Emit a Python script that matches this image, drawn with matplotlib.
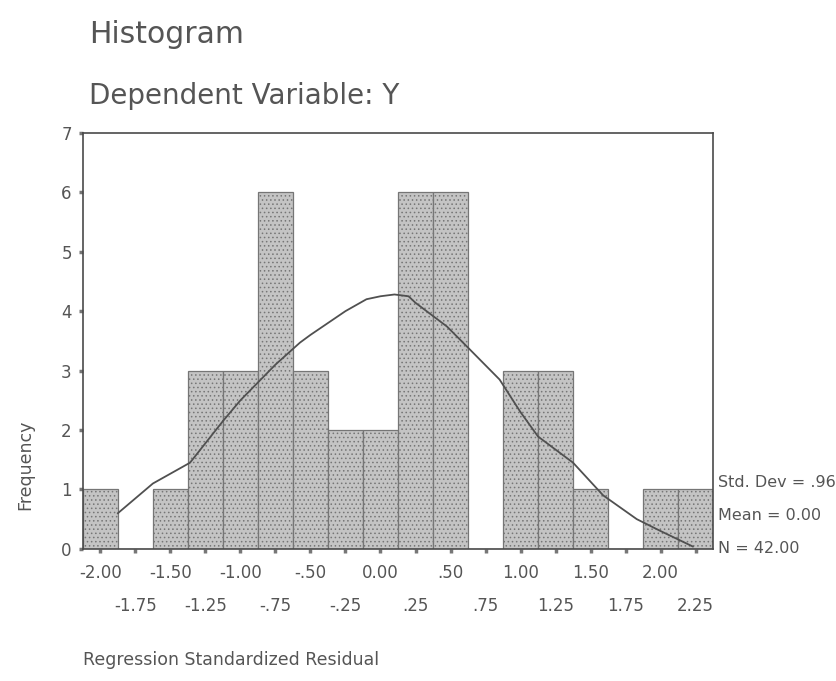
import numpy as np
import matplotlib
matplotlib.use("Agg")
import matplotlib.pyplot as plt

# bin centres and counts
bin_centers = [-2.00, -1.75, -1.50, -1.25, -1.00, -0.75, -0.50, -0.25, 0.00,
               0.25, 0.50, 0.75, 1.00, 1.25, 1.50, 1.75, 2.00, 2.25]
counts = [1, 0, 1, 3, 3, 6, 3, 2, 2, 6, 6, 0, 3, 3, 1, 0, 1, 1]
bin_width = 0.25

# normal curve
curve_x = [-1.875, -1.625, -1.36, -1.125, -1.0, -0.75, -0.575, -0.5, -0.25,
           -0.1, 0.0, 0.1, 0.2, 0.25, 0.475, 0.64, 0.85, 1.0, 1.125, 1.375,
           1.59, 1.83, 2.0, 2.23]
curve_y = [0.6, 1.1, 1.45, 2.15, 2.5, 3.1, 3.47, 3.6, 4.0,
           4.2, 4.25, 4.28, 4.25, 4.14, 3.74, 3.35, 2.85, 2.3, 1.89, 1.45,
           0.9, 0.5, 0.3, 0.04]

major_ticks = [-2.00, -1.50, -1.00, -0.50, 0.00, 0.50, 1.00, 1.50, 2.00]
major_labels = ["-2.00", "-1.50", "-1.00", "-.50", "0.00", ".50", "1.00", "1.50", "2.00"]
minor_ticks = [-1.75, -1.25, -0.75, -0.25, 0.25, 0.75, 1.25, 1.75, 2.25]
minor_labels = ["-1.75", "-1.25", "-.75", "-.25", ".25", ".75", "1.25", "1.75", "2.25"]

stats_lines = ["Std. Dev = .96", "Mean = 0.00", "N = 42.00"]

txt = "#555555"
plt.rcParams["font.family"] = ["DejaVu Sans"]
plt.rcParams["hatch.color"] = "#8e8e8e"
plt.rcParams["hatch.linewidth"] = 0.6

fig = plt.figure(figsize=(8.37, 6.81), dpi=100, facecolor="white")
ax = fig.add_axes([0.099, 0.194, 0.753, 0.611])

ax.bar(bin_centers, counts, width=bin_width, facecolor="#c4c4c4",
       edgecolor="#767676", linewidth=0.9, hatch="....", zorder=2)
ax.plot(curve_x, curve_y, color="#505050", lw=1.3, zorder=3)

ax.set_xlim(-2.125, 2.375)
ax.set_ylim(0, 7)
ax.set_yticks(range(0, 8))

ax.set_xticks(major_ticks)
ax.set_xticklabels(major_labels)
ax.set_xticks(minor_ticks, minor=True)
ax.set_xticklabels(minor_labels, minor=True)

ax.tick_params(axis="y", length=3, width=2.5, color="#777777", labelsize=12,
               labelcolor=txt, pad=5)
ax.tick_params(axis="x", which="both", length=3, width=2.5, color="#777777",
               labelsize=12, labelcolor=txt)
ax.tick_params(axis="x", which="major", pad=8)
ax.tick_params(axis="x", which="minor", pad=31.5)

for s in ax.spines.values():
    s.set_color("#4a4a4a")
    s.set_linewidth(1.2)

fig.text(0.106, 0.97, "Histogram", fontsize=21.5, color=txt, va="top", ha="left")
fig.text(0.106, 0.88, "Dependent Variable: Y", fontsize=20, color=txt,
         va="top", ha="left")
fig.text(0.03, 0.317, "Frequency", fontsize=12.5, color=txt, rotation=90,
         ha="center", va="center")
fig.text(0.099, 0.031, "Regression Standardized Residual", fontsize=12.5,
         color=txt, ha="left", va="center")

for i, line in enumerate(stats_lines):
    fig.text(0.858, 0.291 - i * 0.048, line, fontsize=11.5, color=txt,
             ha="left", va="center")

fig.savefig("out.png", dpi=100, facecolor="white")
